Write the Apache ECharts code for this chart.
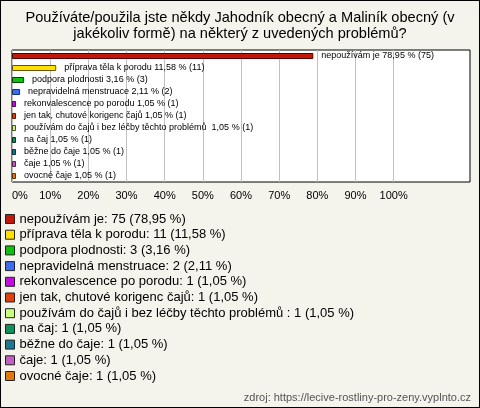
<!DOCTYPE html>
<html>
<head>
<meta charset="utf-8">
<script src="https://cdn.jsdelivr.net/npm/echarts@6/dist/echarts.min.js"></script>
<style>
  html, body { margin: 0; padding: 0; background: #f4f3ec; }
  #chart { width: 480px; height: 408px; box-sizing: border-box; border: 1px solid #000; }
</style>
</head>
<body>
<div id="chart"></div>
<script>
const categories = [
  "nepoužívám je",
  "příprava těla k porodu",
  "podpora plodnosti",
  "nepravidelná menstruace",
  "rekonvalescence po porodu",
  "jen tak, chutové korigenc čajů",
  "používám do čajů i bez léčby těchto problémů ",
  "na čaj",
  "běžne do čaje",
  "čaje",
  "ovocné čaje"
];
const counts = [75, 11, 3, 2, 1, 1, 1, 1, 1, 1, 1];
const percents = [78.95, 11.58, 3.16, 2.11, 1.05, 1.05, 1.05, 1.05, 1.05, 1.05, 1.05];
const colors = ["#c0180c", "#ffe000", "#10c010", "#3d6cf0", "#c010e0", "#e04010",
  "#c8ff80", "#10905a", "#1a7890", "#c060c0", "#e07810"];
const borders = ["#500", "#650", "#040", "#103080", "#500060", "#601000",
  "#405020", "#003020", "#003040", "#502050", "#603000"];
const xTicks = [0, 10, 20, 30, 40, 50, 60, 70, 80, 90, 100];

const fmt = v => v.toFixed(2).replace(".", ",");
const font = "Liberation Sans";

const chart = echarts.init(document.getElementById("chart"));

const series = categories.map((name, i) => ({
  name: `${name}: ${counts[i]} (${fmt(percents[i])} %)`,
  type: "bar",
  stack: "all",
  barWidth: 6,
  itemStyle: { color: colors[i], borderColor: borders[i], borderWidth: 1 },
  label: {
    show: true,
    position: "right",
    distance: 8,
    fontFamily: font,
    fontSize: 9,
    color: "#000",
    formatter: () => `${name} ${fmt(percents[i])} % (${counts[i]})`
  },
  data: categories.map((_, j) => (j === i ? percents[i] : "-"))
}));

const option = {
  animation: false,
  textStyle: { fontFamily: font },
  title: {
    text: "Používáte/použila jste někdy Jahodník obecný a Maliník obecný (v\njakékoliv formě) na některý z uvedených problémů?",
    left: 239,
    top: 9,
    textAlign: "center",
    padding: 0,
    textStyle: { fontFamily: font, fontSize: 14.6, fontWeight: "normal", color: "#000", lineHeight: 16, align: "center" }
  },
  grid: {
    left: 11,
    right: 9,
    top: 49,
    bottom: 225,
    show: true,
    backgroundColor: "#fff",
    borderColor: "#000",
    borderWidth: 1
  },
  xAxis: {
    type: "value",
    min: 0,
    max: 120,
    interval: 10,
    axisLine: { show: false },
    axisTick: { show: false },
    axisLabel: {
      margin: 8,
      fontSize: 11,
      color: "#000",
      alignMinLabel: "left",
      formatter: v => (xTicks.includes(v) ? v + "%" : "")
    },
    splitLine: {
      lineStyle: {
        color: xTicks.map(() => "#c0c0c0").concat(["rgba(0,0,0,0)", "rgba(0,0,0,0)"])
      }
    }
  },
  yAxis: {
    type: "category",
    inverse: true,
    data: categories,
    axisLine: { show: false },
    axisTick: { show: false },
    axisLabel: { show: false }
  },
  legend: {
    orient: "vertical",
    left: 4,
    top: 211,
    padding: 0,
    icon: "rect",
    itemWidth: 9,
    itemHeight: 9,
    itemGap: 1.7,
    selectedMode: false,
    textStyle: { fontFamily: font, fontSize: 13, color: "#000", lineHeight: 14 },
    itemStyle: { borderColor: "#222", borderWidth: 1 }
  },
  graphic: [{
    type: "text",
    right: 8,
    bottom: 4,
    style: {
      text: "zdroj: https://lecive-rostliny-pro-zeny.vyplnto.cz",
      fontFamily: font,
      fontSize: 11,
      fill: "#555"
    }
  }],
  series
};

chart.setOption(option);
</script>
</body>
</html>
